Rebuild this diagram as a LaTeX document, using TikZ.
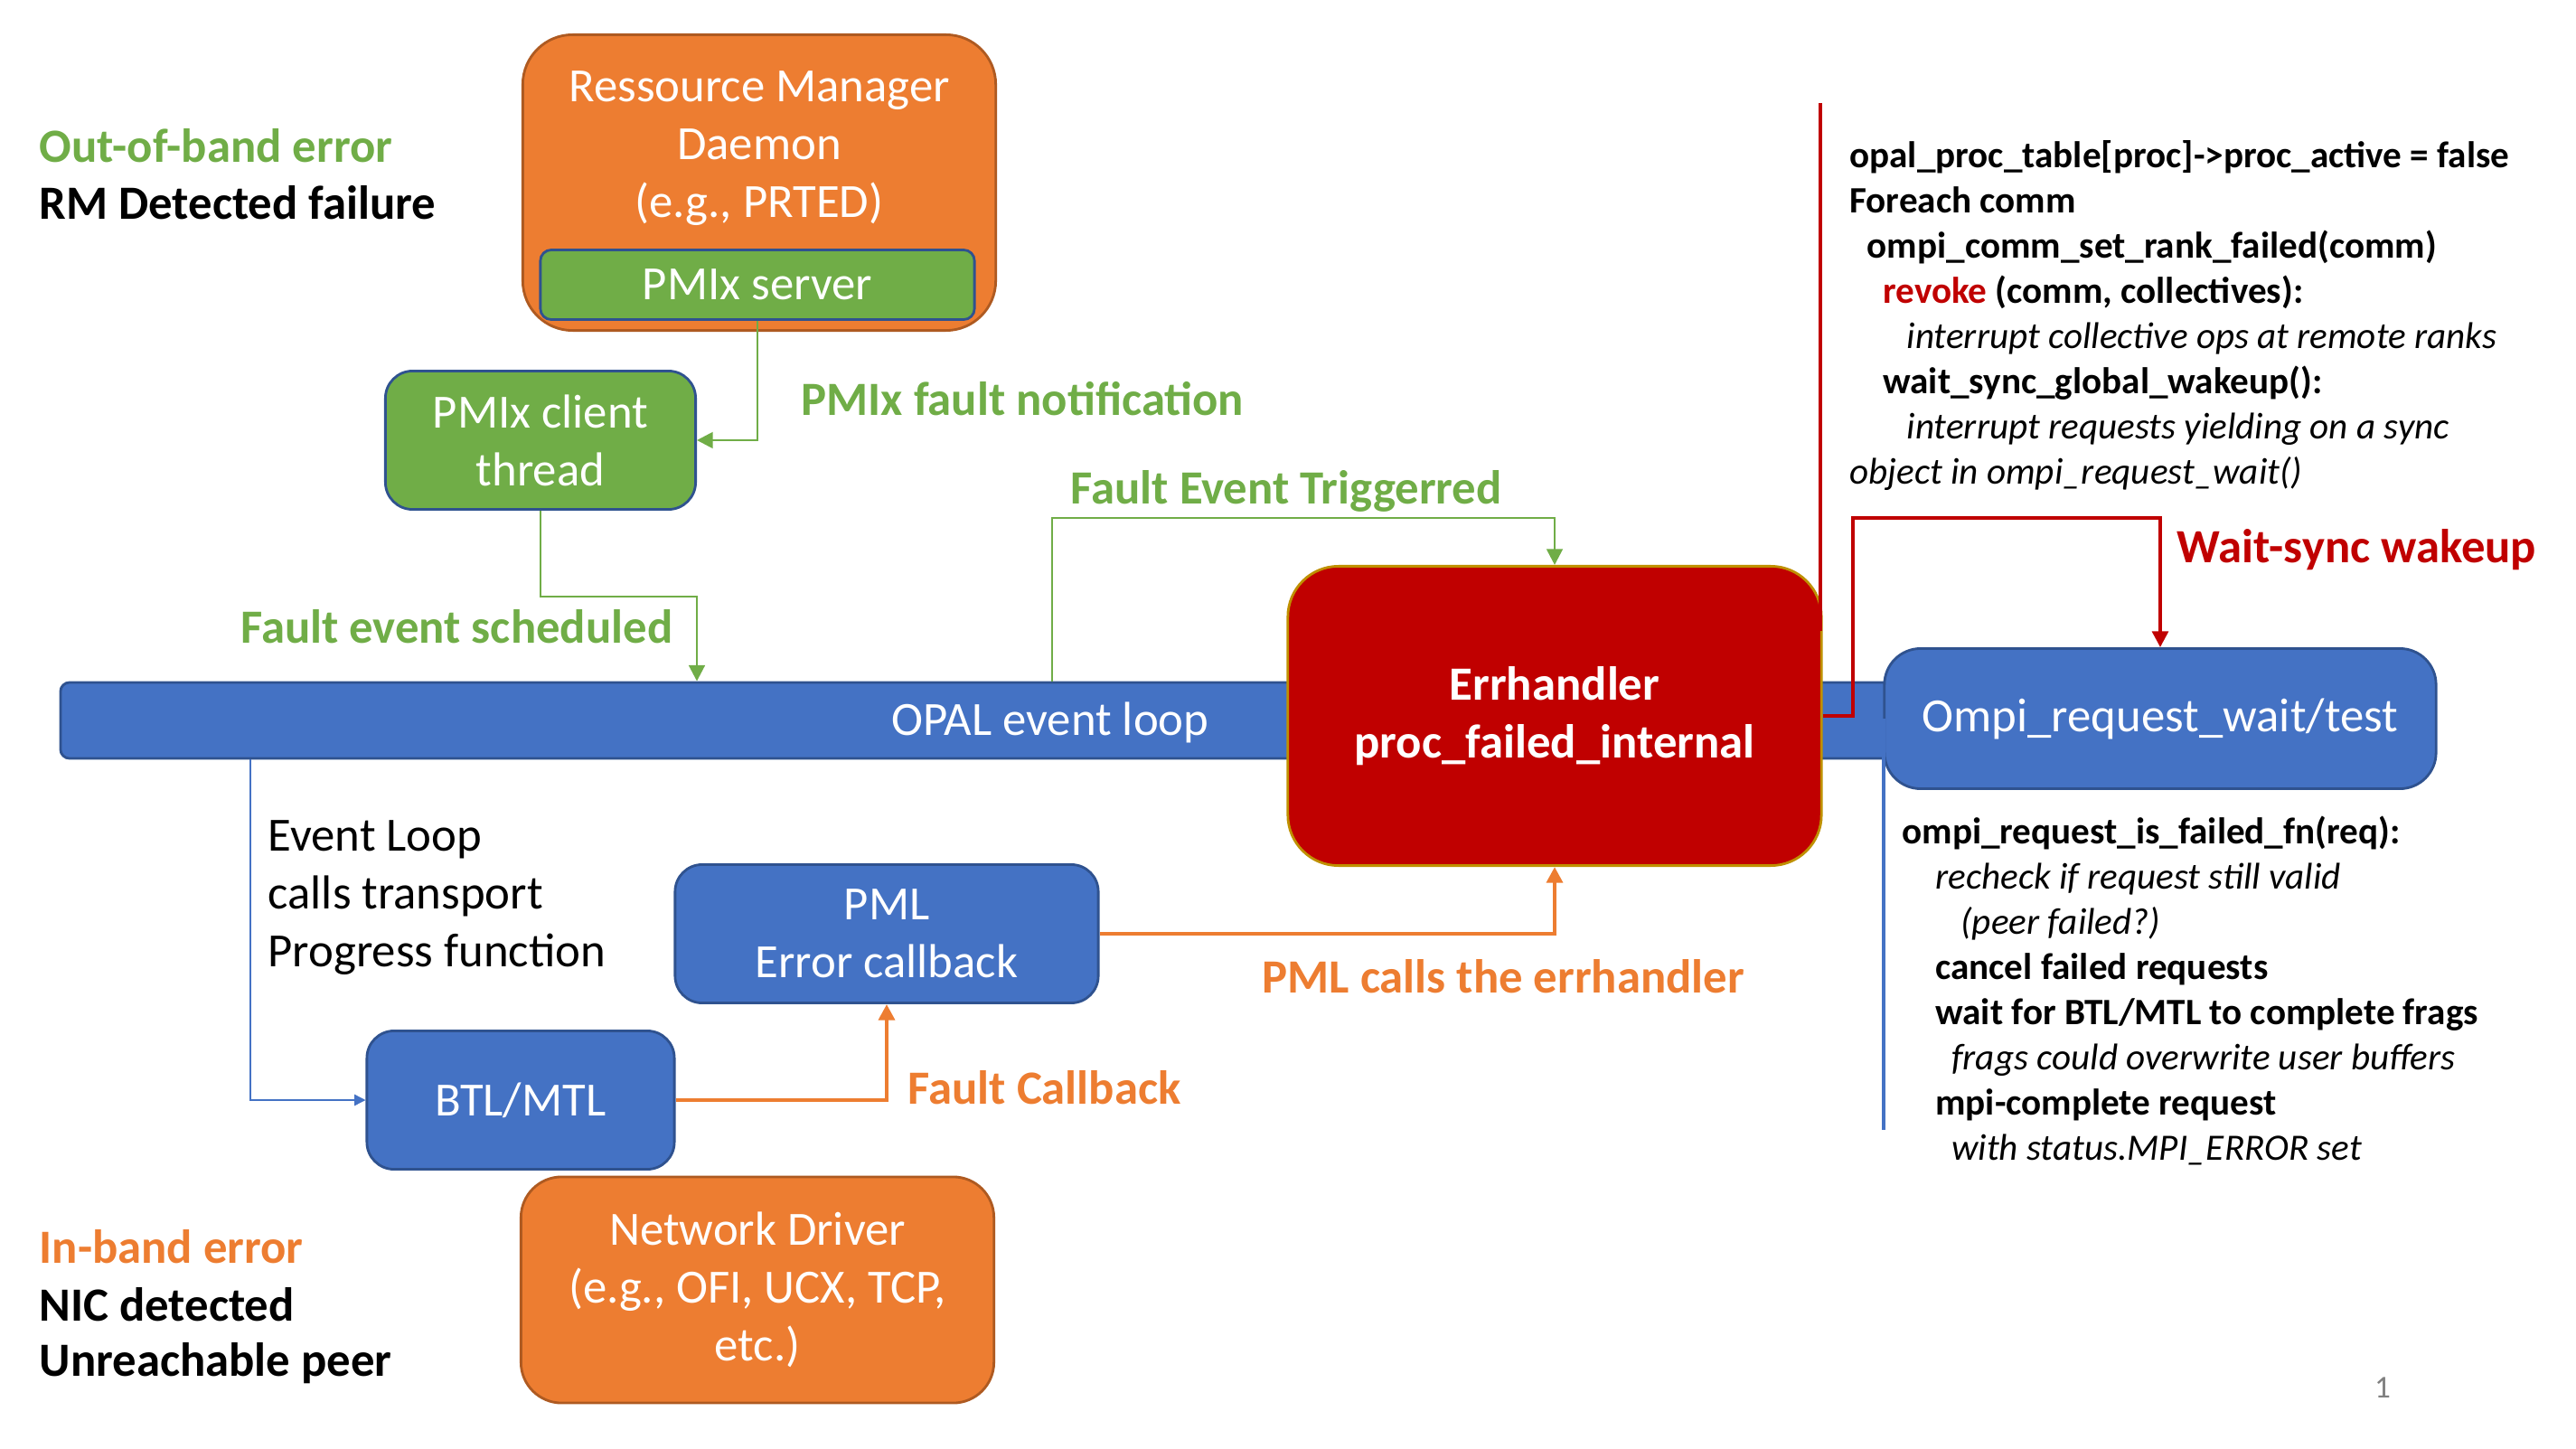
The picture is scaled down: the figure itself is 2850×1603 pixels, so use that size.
\documentclass[tikz,border=0pt]{standalone}
\usepackage{fontspec}
\setmainfont{Carlito}
\usepackage{tikz}
\usetikzlibrary{arrows.meta}

\definecolor{boxorange}{HTML}{ED7D31}
\definecolor{boxgreen}{HTML}{70AD47}
\definecolor{boxblue}{HTML}{4472C4}
\definecolor{edgeblue}{HTML}{2F528F}
\definecolor{edgeorange}{HTML}{AE5A21}
\definecolor{errred}{HTML}{C00000}
\definecolor{edgegold}{HTML}{BF9000}

\begin{document}
\begin{tikzpicture}[x=0.01cm, y=-0.01cm,
    bigfont/.style={font=\fontsize{15}{18.2}\selectfont},
    boldfont/.style={font=\fontsize{15}{18.2}\selectfont\bfseries},
    notefont/.style={font=\fontsize{11.7}{14.2}\selectfont\bfseries},
    box/.style={rectangle, line width=0.8pt, text=white, align=center, bigfont},
    obox/.style={box, fill=boxorange, draw=edgeorange, rounded corners=0.55cm},
    gbox/.style={box, fill=boxgreen, draw=edgeblue, rounded corners=0.3cm},
    bbox/.style={box, fill=boxblue, draw=edgeblue, rounded corners=0.3cm},
    lab/.style={anchor=west, inner sep=0pt, boldfont},
    garrow/.style={draw=boxgreen, line width=0.8pt, -{Triangle[length=5pt,width=5pt]}},
    oarrow/.style={draw=boxorange, line width=1.3pt, -{Triangle[length=5pt,width=5pt]}},
    rarrow/.style={draw=errred, line width=1.1pt, -{Triangle[length=5pt,width=5pt]}},
    barrow/.style={draw=boxblue, line width=0.4pt, -{Triangle[length=3.5pt,width=3.5pt]}}]
    \useasboundingbox (0,0) rectangle (2850,1603);

    % left side labels
    \node[lab, text=boxgreen] (oob) at (43,161) {Out-of-band error};
    \node[lab] (rmdet) at (43,224) {RM Detected failure};
    \node[lab, text=boxorange] (inb) at (43,1379) {In-band error};
    \node[lab] (nic) at (43,1443) {NIC detected};
    \node[lab] (peer) at (43,1508) {Unreachable peer};

    % boxes
    \node[obox, minimum width=5.23cm, minimum height=3.27cm] (rm) at (840,202) {};
    \node[box] (rmtext) at (840,164) {Ressource Manager\\Daemon\\(e.g., PRTED)};
    \node[gbox, rounded corners=0.12cm, minimum width=4.8cm, minimum height=0.77cm] (srv) at (838,315) {PMIx server};
    \node[gbox, minimum width=3.43cm, minimum height=1.53cm] (client) at (598,487) {PMIx client\\thread};
    \node[bbox, rounded corners=0.1cm, minimum width=20.25cm, minimum height=0.84cm] (opal) at (1080,797) {};
    \node[box] (opaltext) at (1162,799) {OPAL event loop};
    \node[box, fill=errred, draw=edgegold, rounded corners=0.56cm, boldfont,
        minimum width=5.9cm, minimum height=3.31cm] (err) at (1720,792) {Errhandler\\proc\_failed\_internal};
    \node[bbox, rounded corners=0.4cm, minimum width=6.1cm, minimum height=1.55cm] (ompi) at (2390,795) {Ompi\_request\_wait/test};
    \node[bbox, minimum width=4.68cm, minimum height=1.53cm] (pml) at (981,1033) {PML\\Error callback};
    \node[bbox, minimum width=3.4cm, minimum height=1.53cm] (btl) at (576,1217) {BTL/MTL};
    \node[obox, rounded corners=0.45cm, minimum width=5.23cm, minimum height=2.5cm] (net) at (838,1427) {Network Driver\\(e.g., OFI, UCX, TCP,\\etc.)};

    % connectors
    \coordinate (trig) at (1164,573);
    \coordinate (evl) at (277,839);
    \coordinate (wake) at (2050,573);
    \draw[garrow] (srv.south) |- (client.east);
    \draw[garrow] (client.south) -- ++(0,95) -| (client.east |- opal.north);
    \draw[garrow] (trig |- opal.north) -- (trig) -| (err.north);
    \draw[barrow] (opal.south -| evl) |- (btl.west);
    \draw[oarrow] (btl.east) -| (pml.south);
    \draw[oarrow] (pml.east) -| (err.south);
    \draw[rarrow] (err.east) -| (wake) -| (ompi.north);

    % side rules
    \coordinate (septop) at (2014,114);
    \coordinate (sepbot) at (2014,698);
    \draw[errred, line width=0.9pt] (septop) -- (sepbot);
    \coordinate (reqend) at (2084,1250);
    \draw[boxblue, line width=0.9pt] (ompi.west -| reqend) -- (reqend);

    % connector labels
    \node[lab, text=boxgreen] (notif) at (886,441) {PMIx fault notification};
    \node[lab, text=boxgreen] (trigl) at (1184,543) {Fault Event Triggerred};
    \node[lab, anchor=east, text=boxgreen] (sched) at (745,693) {Fault event scheduled};
    \node[lab, bigfont, align=left] (progress) at (296,993) {Event Loop\\calls transport\\Progress function};
    \node[lab, text=boxorange] (fcb) at (1004,1203) {Fault Callback};
    \node[lab, text=boxorange] (pmlcall) at (1396,1080) {PML calls the errhandler};
    \node[lab, text=errred] (wakel) at (2408,608) {Wait-sync wakeup};

    % notes
    \node[anchor=west, align=left, notefont] (errnote) at (2034,349) {%
        opal\_proc\_table[proc]->proc\_active = false\\
        Foreach comm\\
        \hspace*{5.5pt}ompi\_comm\_set\_rank\_failed(comm)\\
        \hspace*{10.5pt}\textcolor{errred}{revoke} (comm, collectives):\\
        \hspace*{18pt}\mdseries\itshape interrupt collective ops at remote ranks\\
        \hspace*{10.5pt}wait\_sync\_global\_wakeup():\\
        \hspace*{18pt}\mdseries\itshape interrupt requests yielding on a sync\\
        \mdseries\itshape object in ompi\_request\_wait()};
    \node[anchor=west, align=left, notefont] (reqnote) at (2092,1096) {%
        ompi\_request\_is\_failed\_fn(req):\\
        \hspace*{10.5pt}\mdseries\itshape recheck if request still valid\\
        \hspace*{18.5pt}\mdseries\itshape (peer failed?)\\
        \hspace*{10.5pt}cancel failed requests\\
        \hspace*{10.5pt}wait for BTL/MTL to complete frags\\
        \hspace*{15.6pt}\mdseries\itshape frags could overwrite user buffers\\
        \hspace*{10.5pt}mpi-complete request\\
        \hspace*{15.6pt}\mdseries\itshape with status.MPI\_ERROR set};
    \node[text=gray, font=\fontsize{10}{12}\selectfont] (page) at (2636,1535) {1};
\end{tikzpicture}
\end{document}
